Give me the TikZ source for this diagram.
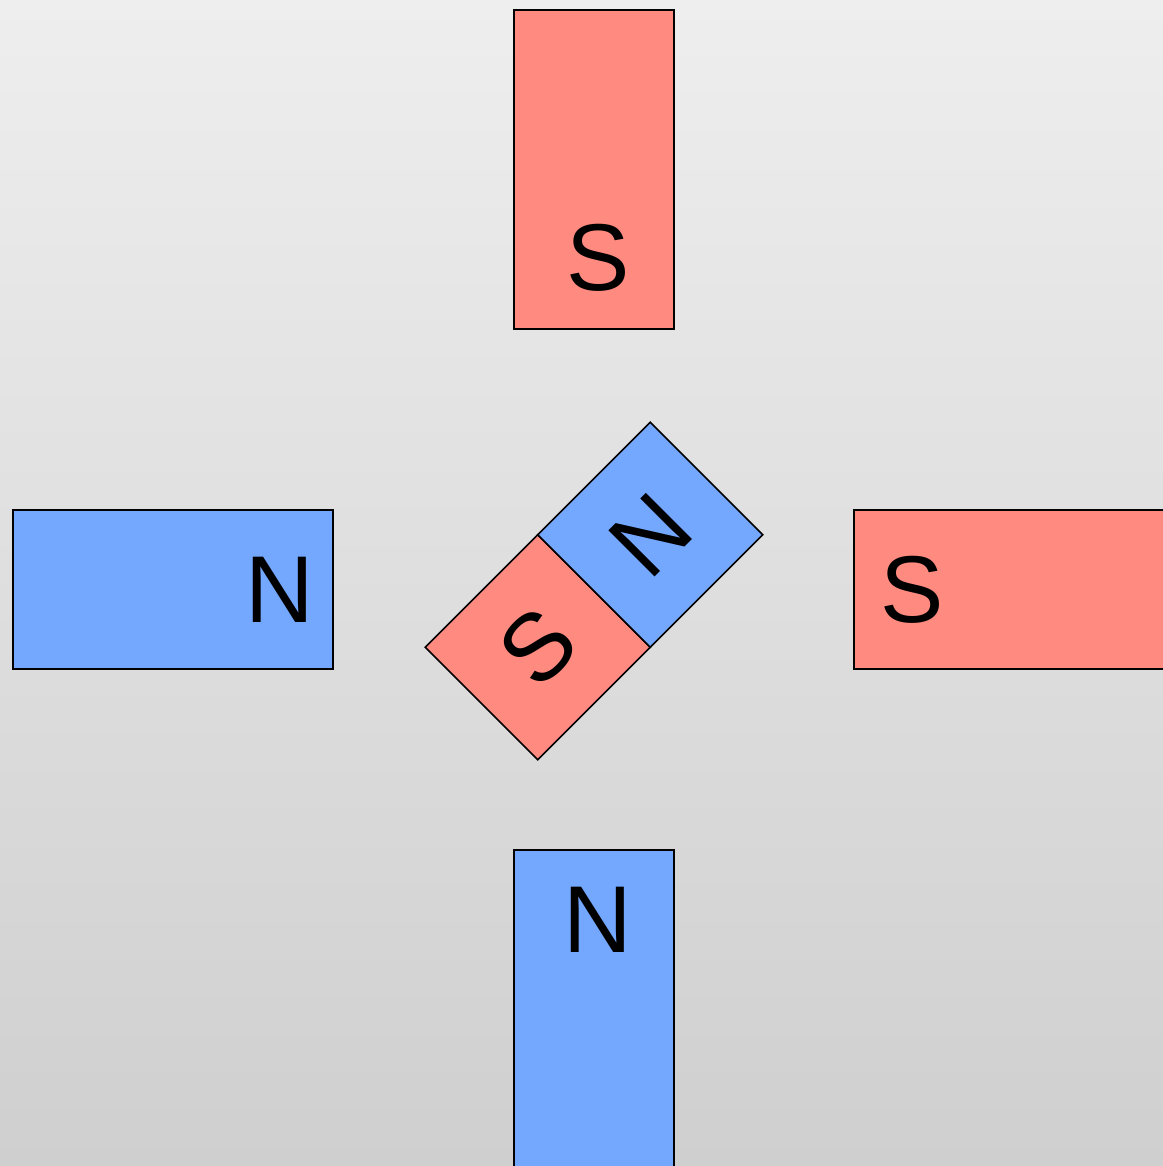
\documentclass[tikz,border=0pt]{standalone}
\usepackage{fontspec}
\setmainfont{Liberation Sans}
\definecolor{southred}{HTML}{FF8B80}
\definecolor{northblue}{HTML}{74A8FF}
\definecolor{bgtop}{HTML}{EEEEEE}
\definecolor{bgbottom}{HTML}{CFCFCF}
\tikzset{
pole/.style={draw=black,line width=0.45pt,inner sep=0,outer sep=0},
spole/.style={pole,fill=southred},
npole/.style={pole,fill=northblue},
letter/.style={font={\fontsize{27}{30}\selectfont},inner sep=0}
}

\begin{document}
\begin{tikzpicture}[x=0.01cm,y=-0.01cm]
\useasboundingbox (0,0) rectangle (1163,1166);
\shade[top color=bgtop,bottom color=bgbottom] (0,0) rectangle (1163,1166);
\clip (0,0) rectangle (1163,1166);

% outer magnets
\node[spole,minimum width=1.6cm,minimum height=3.19cm] (top) at (594,169.5) {};
\node[npole,minimum width=3.2cm,minimum height=1.59cm] (left) at (173,589.5) {};
\node[spole,minimum width=3.2cm,minimum height=1.59cm] (right) at (1014,589.5) {};
\node[npole,minimum width=1.6cm,minimum height=3.2cm] (bottom) at (594,1010) {};

\node[letter] (top-S) at (598,258) {S};
\node[letter] (left-N) at (280,590) {N};
\node[letter] (right-S) at (912,590) {S};
\node[letter] (bottom-N) at (598,920) {N};

% compass needle
\begin{scope}[shift={(594,591)},rotate=45,transform shape]
\node[spole,minimum size=1.59cm] (needle-S) at (-79.5,0) {};
\node[npole,minimum size=1.59cm] (needle-N) at (79.5,0) {};
\node[letter] at (needle-S) {S};
\node[letter] at (needle-N) {N};
\end{scope}
\end{tikzpicture}
\end{document}
